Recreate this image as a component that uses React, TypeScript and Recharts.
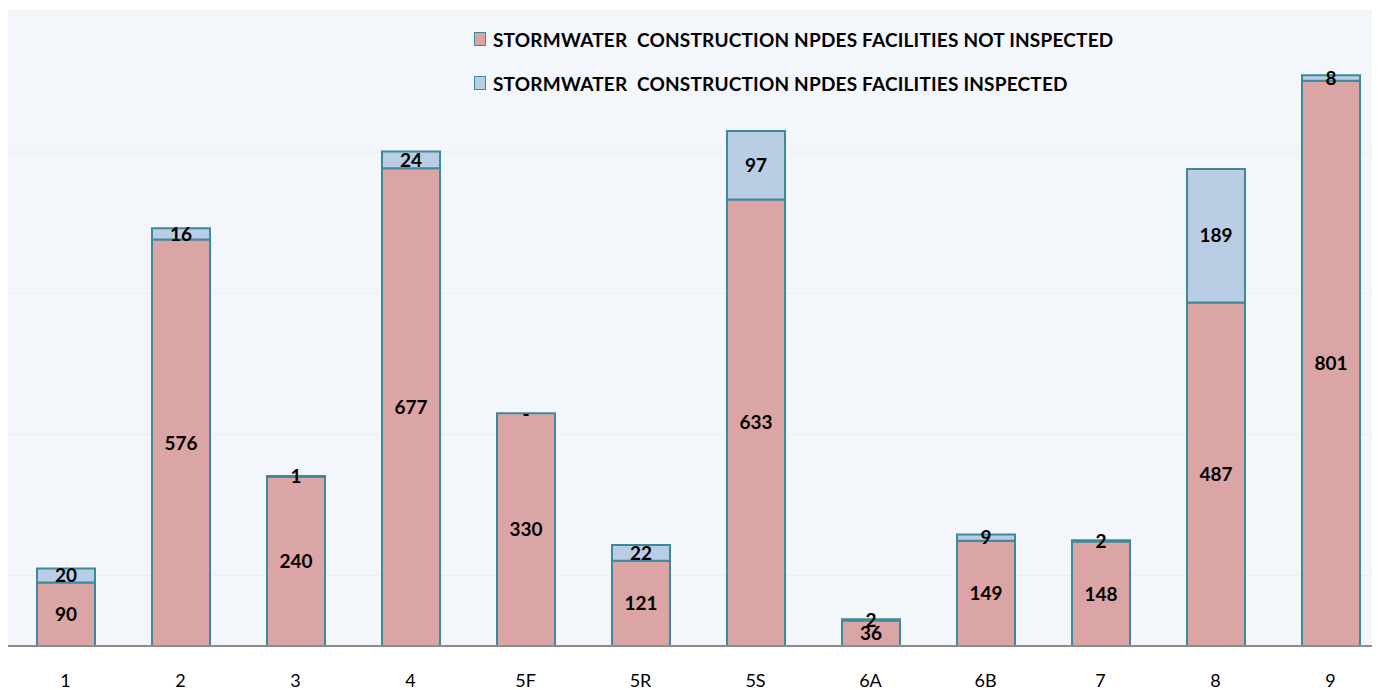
import React from "react";
import { BarChart, Bar, XAxis, YAxis, CartesianGrid, LabelList, Legend } from "recharts";

const categories = ["1", "2", "3", "4", "5F", "5R", "5S", "6A", "6B", "7", "8", "9"];
const notInspected = [90, 576, 240, 677, 330, 121, 633, 36, 149, 148, 487, 801];
const inspected = [20, 16, 1, 24, 0, 22, 97, 2, 9, 2, 189, 8];
const gridTicks = [100, 300, 500, 700];

const seriesNames = [
  "STORMWATER  CONSTRUCTION NPDES FACILITIES NOT INSPECTED",
  "STORMWATER  CONSTRUCTION NPDES FACILITIES INSPECTED",
];
const fills = ["#DCA5A5", "#B9CDE4"];
const STROKE = "#3E8A9C";
const FONT = "Lato, 'Open Sans', sans-serif";

const data = categories.map((c, i) => ({
  name: c,
  notInspected: notInspected[i],
  inspected: inspected[i],
}));

const LegendContent = () => (
  <div style={{ position: "absolute", left: 466, top: 9, fontFamily: FONT }}>
    {seriesNames.map((n, i) => (
      <div
        key={n}
        style={{ display: "flex", alignItems: "center", height: 44 }}
      >
        <span
          style={{
            display: "inline-block",
            width: 10,
            height: 12,
            background: fills[i],
            border: `1px solid ${STROKE}`,
            marginRight: 7,
          }}
        />
        <span
          style={{
            fontWeight: 700,
            fontSize: 19,
            letterSpacing: 0.2,
            color: "#000",
            whiteSpace: "pre",
          }}
        >
          {n}
        </span>
      </div>
    ))}
  </div>
);

const fmt = (v: any) => (v === 0 ? "" : v);

// Draws "-" at the top of the lower segment when the upper (inspected) value is zero
const ZeroDash = (props: any) => {
  const { x, y, width, index } = props;
  if (inspected[index] !== 0) return null;
  return (
    <text
      x={x + width / 2}
      y={y + 3}
      textAnchor="middle"
      dominantBaseline="middle"
      fill="#000"
      fontSize={19}
      fontWeight={700}
      fontFamily={FONT}
    >
      -
    </text>
  );
};

export default function App() {
  return (
    <div style={{ width: 1372, height: 682, overflow: "hidden" }}>
      <style>{"body{overflow:hidden}"}</style>
      <BarChart
        width={1380}
        height={682}
        data={data}
        margin={{ top: 3, right: 0, bottom: 0, left: 0 }}
        barSize={58}
      >
        <CartesianGrid
          vertical={false}
          fill="#F3F6FA"
          stroke="#EAEEF3"
          strokeWidth={1}
        />
        <YAxis hide domain={[0, 900]} ticks={gridTicks} type="number" allowDataOverflow />
        <XAxis
          dataKey="name"
          height={44}
          tickLine={false}
          axisLine={{ stroke: "#8C8C8C", strokeWidth: 2 }}
          tick={{ fill: "#000", fontSize: 18, fontFamily: FONT }}
          dy={20}
        />
        <Legend
          verticalAlign="top"
          content={<LegendContent />}
          wrapperStyle={{ top: 0, left: 0, width: 0, height: 0 }}
        />
        <Bar
          dataKey="notInspected"
          name={seriesNames[0]}
          stackId="a"
          fill={fills[0]}
          stroke={STROKE}
          strokeWidth={2}
          isAnimationActive={false}
        >
          <LabelList
            dataKey="notInspected"
            position="center"
            fill="#000"
            fontSize={19}
            fontWeight={700}
            fontFamily={FONT}
            formatter={fmt}
          />
          <LabelList dataKey="notInspected" content={<ZeroDash />} />
        </Bar>
        <Bar
          dataKey="inspected"
          name={seriesNames[1]}
          stackId="a"
          fill={fills[1]}
          stroke={STROKE}
          strokeWidth={2}
          isAnimationActive={false}
        >
          <LabelList
            dataKey="inspected"
            position="center"
            fill="#000"
            fontSize={19}
            fontWeight={700}
            fontFamily={FONT}
            formatter={fmt}
          />
        </Bar>
      </BarChart>
    </div>
  );
}
